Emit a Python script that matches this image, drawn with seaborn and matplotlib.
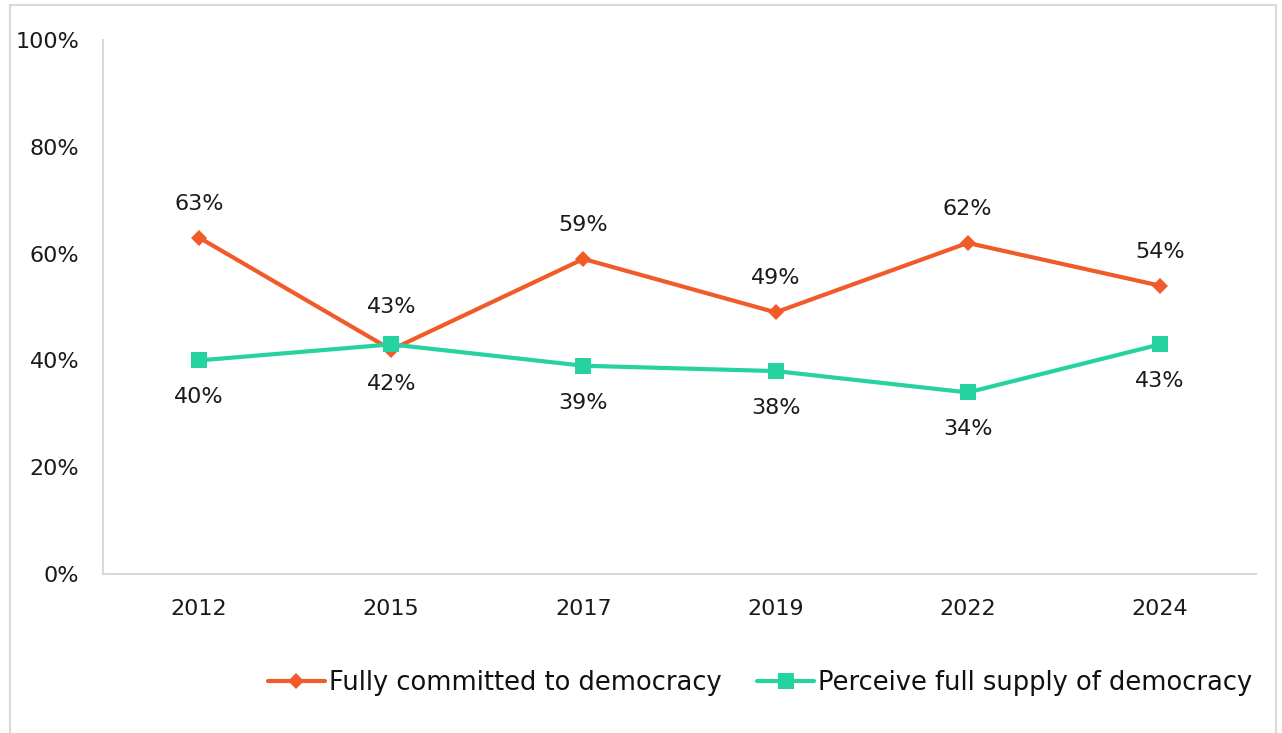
import pandas as pd
import seaborn as sns
import matplotlib.pyplot as plt
from matplotlib.patches import Rectangle
from matplotlib.ticker import PercentFormatter

# Data
years = ['2012', '2015', '2017', '2019', '2022', '2024']
committed = [63, 42, 59, 49, 62, 54]
supply = [40, 43, 39, 38, 34, 43]

# label above (+1) or below (-1) the point
committed_pos = [1, -1, 1, 1, 1, 1]
supply_pos = [-1, 1, -1, -1, -1, -1]

orange = '#f15a29'
teal = '#26d3a0'
grey = '#d9d9d9'

sns.set_theme(style="white")
plt.rcParams['font.family'] = ['DejaVu Sans']

df = pd.DataFrame({'year': years, 'committed': committed, 'supply': supply})

fig = plt.figure(figsize=(12.82, 7.33), dpi=100)
ax = fig.add_axes([103 / 1282, 1 - 574 / 733, 1153 / 1282, 534 / 733])

sns.lineplot(data=df, x='year', y='committed', ax=ax, color=orange, lw=3,
             marker='D', markersize=8, markeredgewidth=0,
             label='Fully committed to democracy')
sns.lineplot(data=df, x='year', y='supply', ax=ax, color=teal, lw=3,
             marker='s', markersize=12, markeredgewidth=0,
             label='Perceive full supply of democracy')

for i, (v, p) in enumerate(zip(committed, committed_pos)):
    ax.annotate(f'{v}%', (i, v), xytext=(0, 34 * p), textcoords='offset pixels',
                ha='center', va='center', fontsize=16, color='#1a1a1a')
for i, (v, p) in enumerate(zip(supply, supply_pos)):
    ax.annotate(f'{v}%', (i, v), xytext=(0, 37 * p), textcoords='offset pixels',
                ha='center', va='center', fontsize=16, color='#1a1a1a')

ax.set_xlim(-0.5, 5.5)
ax.set_ylim(0, 100)
ax.set_yticks([0, 20, 40, 60, 80, 100])
ax.yaxis.set_major_formatter(PercentFormatter(decimals=0))
ax.set_xlabel('')
ax.set_ylabel('')
ax.tick_params(axis='both', labelsize=16, colors='#1a1a1a', length=0)
ax.tick_params(axis='y', pad=17)
ax.tick_params(axis='x', pad=18)

for s in ['top', 'right']:
    ax.spines[s].set_visible(False)
for s in ['left', 'bottom']:
    ax.spines[s].set_color(grey)
    ax.spines[s].set_linewidth(1.5)

ax.legend(loc='center', bbox_to_anchor=(760 / 1282, 1 - 683 / 733),
          bbox_transform=fig.transFigure, ncol=2, frameon=False,
          fontsize=18.5, handlelength=2.2, handletextpad=0.15, columnspacing=1.4,
          labelcolor='#111111')

# outer chart border
fig.add_artist(Rectangle((10 / 1282, -0.01), 1266 / 1282, 1 - 5 / 733 + 0.01,
                         transform=fig.transFigure, fill=False,
                         edgecolor=grey, lw=1.5))

fig.savefig('out.png', dpi=100)
